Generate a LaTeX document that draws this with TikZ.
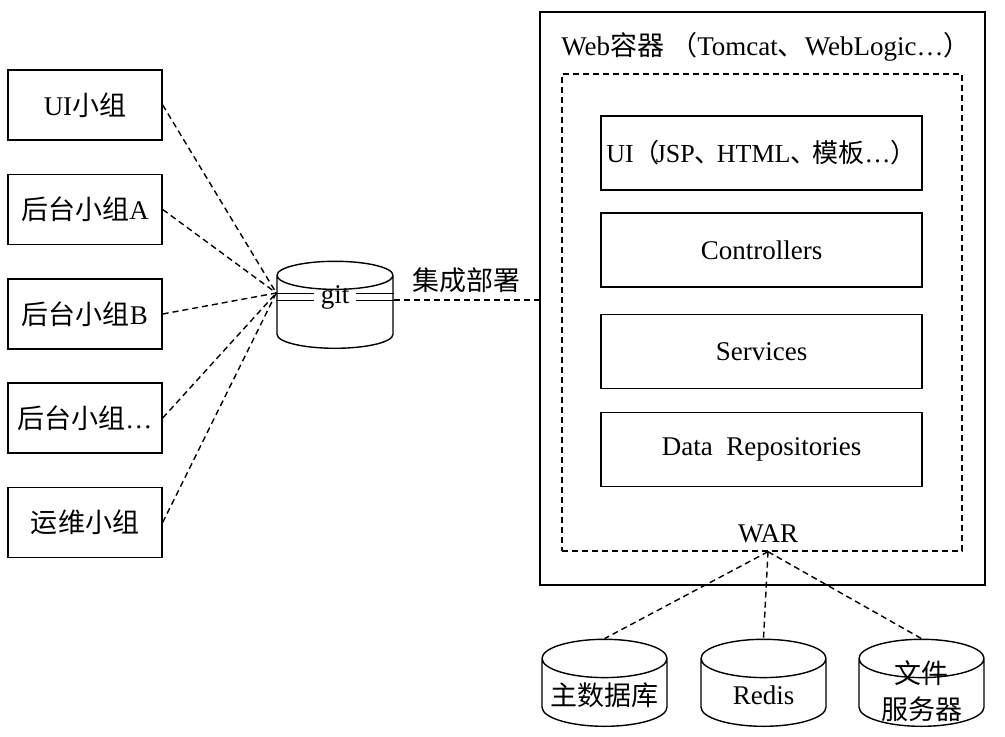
\documentclass[tikz,border=0pt]{standalone}
\usepackage{fontspec}
\setmainfont{Liberation Serif}
\newfontfamily\cjk{Noto Sans CJK SC}
\usetikzlibrary{shapes.geometric}
\tikzset{
    team/.style={draw, line width=0.7pt, minimum width=77pt, minimum height=35pt},
    layer/.style={draw, line width=0.7pt, minimum width=160.5pt, minimum height=37pt},
    store/.style={draw, line width=0.7pt, cylinder, shape border rotate=90, aspect=0.33, anchor=south,
        minimum width=62.5pt, minimum height=43.5pt, text width=56pt, align=center, inner sep=1pt},
    link/.style={line width=0.7pt, dash pattern=on 3pt off 2pt},
}
\begin{document}
\begin{tikzpicture}[x=0.5pt, y=-0.5pt, font=\fontsize{13.5}{15}\selectfont]
        \useasboundingbox (0,0) rectangle (1005,737);
        % Teams
        \node (ui) at (85,105) [team] {UI{\cjk 小组}};
        \node (bka) at (85,209.5) [team] {{\cjk 后台小组}A};
        \node (bkb) at (85,314) [team] {{\cjk 后台小组}B};
        \node (bkx) at (85,418) [team] {{\cjk 后台小组}…};
        \node (ops) at (85,522.5) [team] {{\cjk 运维小组}};
        % Repository
        \node (git) at (335,349) [store, minimum width=58pt, text width=52pt, aspect=0.26] {};
        \node (gitlbl) at (335,297) [inner xsep=3pt, inner ysep=1pt] {git};
        \draw[line width=0.6pt] ([yshift=1.6pt]gitlbl.west -| git.west) -- ([yshift=1.6pt]gitlbl.west)
            ([yshift=-1.6pt]gitlbl.west -| git.west) -- ([yshift=-1.6pt]gitlbl.west)
            ([yshift=1.6pt]gitlbl.east -| git.east) -- ([yshift=1.6pt]gitlbl.east)
            ([yshift=-1.6pt]gitlbl.east -| git.east) -- ([yshift=-1.6pt]gitlbl.east);
        \coordinate (gitin) at (gitlbl.west -| git.west);
        \foreach \t in {ui,bka,bkb,bkx,ops}
            \draw[link] (\t.east) -- ([yshift=2pt]gitin);
        % Web container
        \node (web) at (762.5,298.5) [draw, line width=0.7pt, minimum width=222.5pt, minimum height=286.5pt] {};
        \node (webtitle) at (766,47) {Web{\cjk 容器 （}Tomcat{\cjk 、}WebLogic…{\cjk ）}};
        \node (war) at (762,312.5) [draw, link, minimum width=200pt, minimum height=238.5pt] {};
        \node (warlbl) at (768,534) {WAR};
        \node (lui) at (761.5,153) [layer, inner xsep=0pt, font=\fontsize{13}{15}\selectfont] {UI{\cjk （}\hspace{-0.15em}JSP{\cjk 、}\hspace{-0.15em}HTML{\cjk 、}\hspace{-0.15em}{\cjk 模板}…{\cjk ）}};
        \node (lctl) at (761.5,250) [layer] {Controllers};
        \node (lsvc) at (761.5,351.5) [layer] {Services};
        \node (lrepo) at (761.5,449.5) [layer] {Data\ \ Repositories};
        % Deploy
        \draw[link] ([yshift=-1.6pt]gitlbl.east -| git.east) -- ([yshift=-1.6pt]gitlbl.east -| web.west)
            node (deploy) [midway, above=0pt] {\cjk 集成部署};
        % Backing stores
        \node (db) at (604.5,727) [store] {\cjk 主数据库};
        \node (redis) at (763.5,727) [store] {Redis};
        \node (fs) at (921.5,727) [store] {\phantom{\cjk 主数据库}};
        \node (fslbl) at ([yshift=2pt]fs.center) [align=center, font=\fontsize{13.5}{18}\selectfont] {\cjk 文件\\\cjk 服务器};
        \coordinate (warout) at ([xshift=3pt]war.south);
        \foreach \s in {db,redis,fs}
            \draw[link] (warout) -- (\s.north);
    \end{tikzpicture}
\end{document}
